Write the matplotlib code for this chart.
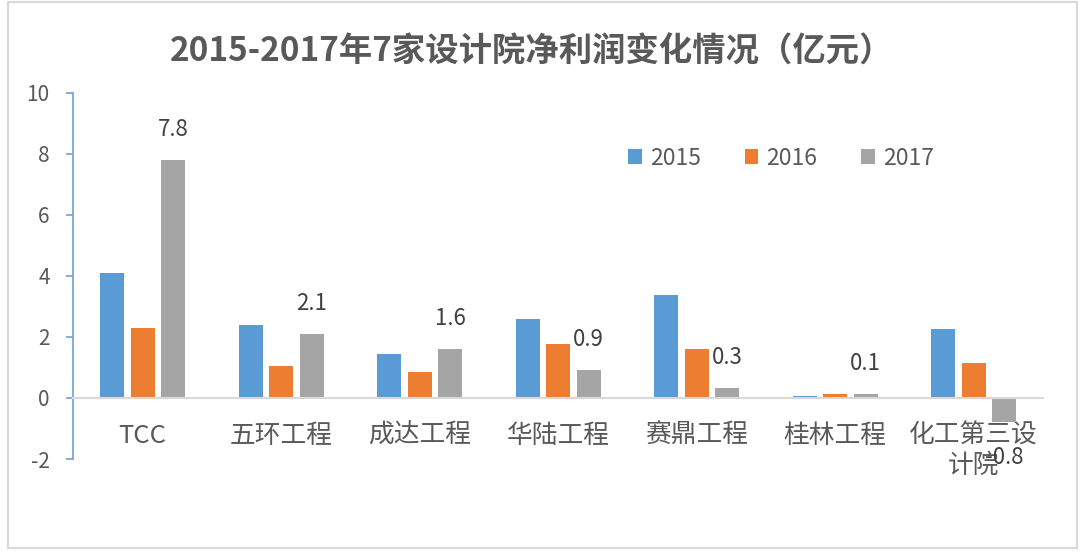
import matplotlib
matplotlib.use("Agg")
import matplotlib.pyplot as plt
from matplotlib.patches import Rectangle
import numpy as np

plt.rcParams['font.family'] = ['Noto Sans CJK SC', 'DejaVu Sans']

title = "2015-2017年7家设计院净利润变化情况（亿元）"
categories = ["TCC", "五环工程", "成达工程", "华陆工程", "赛鼎工程", "桂林工程", "化工第三设\n计院"]
series_names = ["2015", "2016", "2017"]
v2015 = [4.1, 2.4, 1.45, 2.6, 3.37, 0.08, 2.27]
v2016 = [2.3, 1.05, 0.85, 1.78, 1.6, 0.12, 1.13]
v2017 = [7.8, 2.1, 1.6, 0.9, 0.34, 0.14, -0.8]
yticks = [-2, 0, 2, 4, 6, 8, 10]

colors = ["#5B9BD5", "#ED7D31", "#A5A5A5"]
text_color = "#595959"

fig = plt.figure(figsize=(10.8, 5.59), dpi=100)
fig.patch.set_facecolor("white")
fig.patches.append(Rectangle((8/1080, 1-548/559), (1077-8)/1080, (548-2)/559,
                             transform=fig.transFigure, fill=False,
                             edgecolor="#D9D9D9", linewidth=1.5))

ax = fig.add_axes([73.3/1080, 1-459/559, (1043-73.3)/1080, (459-92.7)/559])

for s in ["top", "right"]:
    ax.spines[s].set_visible(False)
ax.spines["left"].set_color("#7EA6D3")
ax.spines["left"].set_linewidth(1.3)
ax.spines["bottom"].set_position(("data", 0))
ax.spines["bottom"].set_color("#D9D9D9")
ax.spines["bottom"].set_linewidth(1.5)
ax.spines["bottom"].set_zorder(3)

x = np.arange(len(categories))
width = 0.173
pitch = 0.22
all_vals = [v2015, v2016, v2017]
bars = []
for i, (vals, name, c) in enumerate(zip(all_vals, series_names, colors)):
    b = ax.bar(x + (i - 1) * pitch, vals, width, color=c, label=name, zorder=2)
    bars.append(b)

ax.set_xlim(-0.5, len(categories) - 0.5)
ax.set_ylim(-2, 10)
ax.set_yticks(yticks)
ax.set_yticklabels([str(t) for t in yticks], fontsize=15, color=text_color)
ax.tick_params(axis="y", direction="out", length=5, width=1.3, color="#7EA6D3", pad=12)

ax.set_xticks(x)
ax.set_xticklabels(categories, fontsize=18.5, color=text_color, linespacing=1.2)
ax.tick_params(axis="x", length=0, pad=18)

# data labels for 2017 (drawn on top of category labels)
for xi, v in zip(x + pitch, v2017):
    off = 22 if v >= 0 else -25
    ax.annotate(f"{v:.1f}", (xi, v), xytext=(0, off), textcoords="offset points",
                ha="center", va="center", fontsize=16, color="#404040", zorder=5,
                annotation_clip=False)

fig.text(532/1080, 1-52/559, title, ha="center", va="center", fontsize=24,
         fontweight="bold", color=text_color)

leg = fig.legend(handles=bars, labels=series_names, loc="center",
                 bbox_to_anchor=(781/1080, 1-158/559), ncol=3, frameon=False,
                 fontsize=16.5, handlelength=0.6, handleheight=0.6,
                 handletextpad=0.35, columnspacing=1.9)
for t in leg.get_texts():
    t.set_color(text_color)

fig.savefig("out.png", dpi=100, facecolor="white")
